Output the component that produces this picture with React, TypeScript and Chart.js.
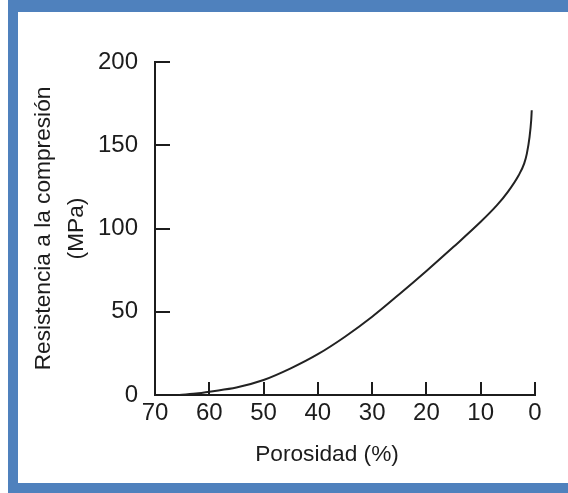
import { useEffect, useRef } from "react";
import { Chart, registerables } from "chart.js";

Chart.register(...registerables);

// Porosity (%) and compressive strength (MPa) along the curve
const porosity = [65.5, 62, 60, 55, 50, 45, 40, 35, 30, 25, 20, 15, 10, 7, 5, 3, 2, 1.5, 1, 0.7, 0.6];
const strength = [0, 1, 2, 4.5, 9, 16, 24.5, 35, 47, 60.5, 74.5, 89, 104, 114, 122, 132, 139, 145, 155, 165, 171];

const xTicks = [70, 60, 50, 40, 30, 20, 10, 0];
const yTicks = [0, 50, 100, 150, 200];

const xTitle = "Porosidad (%)";
const yTitle = ["Resistencia a la compresión", "(MPa)"];

const INK = "#1c1c1c";
const FONT = "Liberation Sans";

// Inward tick marks and the two axis titles
const axisDecor = {
  id: "axisDecor",
  afterDraw(chart: any) {
    const { ctx, chartArea, scales } = chart;
    const xs = scales.x;
    const ys = scales.y;
    ctx.save();
    ctx.strokeStyle = INK;
    ctx.lineWidth = 2;
    ctx.beginPath();
    for (const v of xTicks) {
      if (v === 70) continue;
      const px = Math.round(xs.getPixelForValue(v));
      ctx.moveTo(px, chartArea.bottom);
      ctx.lineTo(px, chartArea.bottom - 13);
    }
    for (const v of yTicks) {
      if (v === 0) continue;
      const py = Math.round(ys.getPixelForValue(v));
      ctx.moveTo(chartArea.left, py);
      ctx.lineTo(chartArea.left + 15, py);
    }
    ctx.stroke();

    ctx.fillStyle = INK;
    ctx.font = `22.7px '${FONT}'`;
    ctx.textAlign = "center";
    ctx.textBaseline = "alphabetic";
    ctx.fillText(xTitle, (chartArea.left + chartArea.right) / 2 - 18, chartArea.bottom + 66);

    ctx.translate(44, (chartArea.top + chartArea.bottom) / 2);
    ctx.rotate(-Math.PI / 2);
    ctx.textBaseline = "middle";
    yTitle.forEach((line, i) => ctx.fillText(line, 0, i * 33));
    ctx.restore();
  },
};

export default function App() {
  const canvasRef = useRef<HTMLCanvasElement | null>(null);

  useEffect(() => {
    const canvas = canvasRef.current;
    if (!canvas) return;
    const chart = new Chart(canvas, {
      type: "line",
      data: {
        datasets: [
          {
            data: porosity.map((p, i) => ({ x: p, y: strength[i] })),
            borderColor: "#222",
            borderWidth: 2,
            pointRadius: 0,
            fill: false,
            cubicInterpolationMode: "monotone",
          },
        ],
      },
      options: {
        animation: false,
        responsive: false,
        devicePixelRatio: 1,
        layout: { padding: { left: 0, top: 62, right: 33, bottom: 0 } },
        plugins: { legend: { display: false }, tooltip: { enabled: false } },
        scales: {
          x: {
            type: "linear",
            min: 0,
            max: 70,
            reverse: true,
            afterBuildTicks: (s: any) => {
              s.ticks = xTicks.map((v) => ({ value: v }));
            },
            afterFit: (s: any) => {
              s.height = 98;
            },
            grid: { display: false, drawTicks: false },
            border: { display: true, color: INK, width: 2 },
            ticks: {
              color: INK,
              padding: 4,
              maxRotation: 0,
              autoSkip: false,
              font: { family: FONT, size: 24 },
            },
          },
          y: {
            type: "linear",
            min: 0,
            max: 200,
            afterBuildTicks: (s: any) => {
              s.ticks = yTicks.map((v) => ({ value: v }));
            },
            afterFit: (s: any) => {
              s.width = 155;
            },
            grid: { display: false, drawTicks: false },
            border: { display: true, color: INK, width: 2 },
            ticks: {
              color: INK,
              padding: 17,
              font: { family: FONT, size: 24 },
            },
          },
        },
      },
      plugins: [axisDecor],
    });
    return () => chart.destroy();
  }, []);

  return (
    <div style={{ position: "absolute", left: 0, top: 0, width: 568, height: 493, background: "#fff" }}>
      <div
        style={{
          position: "absolute",
          left: 8,
          top: 0,
          width: 560,
          height: 493,
          boxSizing: "border-box",
          borderTop: "12px solid #4F81BD",
          borderLeft: "10px solid #4F81BD",
          borderBottom: "10px solid #4F81BD",
        }}
      />
      <canvas
        ref={canvasRef}
        width={568}
        height={493}
        style={{ position: "absolute", left: 0, top: 0, width: 568, height: 493 }}
      />
    </div>
  );
}
